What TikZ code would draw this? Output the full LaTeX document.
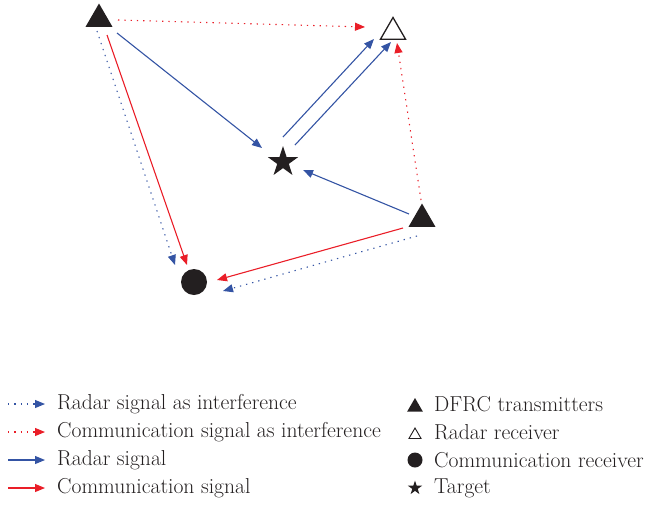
\documentclass[tikz,border=0pt]{standalone}
\usetikzlibrary{arrows.meta,shapes.geometric,calc}
\definecolor{rblue}{RGB}{52,84,164}
\definecolor{rred}{RGB}{234,30,40}
\definecolor{sym}{RGB}{35,31,32}
\tikzset{
  sig/.style={line width=1.1pt,-{Triangle[length=10pt,width=8pt]}},
  rsig/.style={sig,rblue},
  csig/.style={sig,rred},
  dotsig/.style={sig,dash pattern=on 1.3pt off 5pt},
  rint/.style={dotsig,rblue},
  cint/.style={dotsig,rred},
  tx/.style={regular polygon,regular polygon sides=3,fill=sym,inner sep=0pt,minimum size=#1},
  rx/.style={regular polygon,regular polygon sides=3,draw=sym,line width=1.3pt,fill=white,inner sep=0pt,minimum size=#1},
  cx/.style={circle,fill=sym,inner sep=0pt,minimum size=#1},
  tg/.style={star,star points=5,star point ratio=2.618,fill=sym,inner sep=0pt,minimum size=#1},
  lab/.style={anchor=west,inner sep=0pt,text=sym,font=\fontsize{21.6}{24}\selectfont},
}
\begin{document}
\begin{tikzpicture}[x=1pt,y=-1pt]
\useasboundingbox (0,0) rectangle (647,504);
% main nodes
\node[tx=31pt] (t1) at (99,19) {};
\node[rx=29pt] (rr) at (393,32) {};
\node[tx=31pt] (t2) at (422,219) {};
\node[tg=32pt] (tg) at (283,162) {};
\node[cx=26pt] (cr) at (194,282) {};
% connectors
\draw[cint] ($(t1)+(19,1)$) -- ($(rr)+(-28,-5)$);
\draw[rsig] ($(t1)+(18,14)$) -- ($(tg)+(-21,-14)$);
\draw[csig] ($(t1)+(8,16)$) -- ($(cr)+(-7,-17)$);
\draw[rint] ($(t1)+(-2,12)$) -- ($(cr)+(-19,-17)$);
\draw[rsig] ($(tg)+(0,-25)$) -- ($(rr)+(-19,7)$);
\draw[rsig] ($(tg)+(12,-17)$) -- ($(rr)+(-2,10)$);
\draw[rsig] ($(t2)+(-13,-5)$) -- ($(tg)+(20,8)$);
\draw[csig] ($(t2)+(-19,9)$) -- ($(cr)+(23,-2)$);
\draw[rint] ($(t2)+(-5,17)$) -- ($(cr)+(29,9)$);
\draw[cint] ($(t2)+(-1,-19)$) -- ($(rr)+(4,11)$);
% legend left
\coordinate (l1a) at (8,404); \coordinate (l1b) at (45,404);
\coordinate (l2a) at (8,432); \coordinate (l2b) at (45,432);
\coordinate (l3a) at (8,460); \coordinate (l3b) at (45,460);
\coordinate (l4a) at (8,488); \coordinate (l4b) at (45,488);
\draw[rint] (l1a) -- (l1b);
\draw[cint] (l2a) -- (l2b);
\draw[rsig] (l3a) -- (l3b);
\draw[csig] (l4a) -- (l4b);
\node[lab] (k1) at (57,404) {Radar signal as interference};
\node[lab] (k2) at (57,432) {Communication signal as interference};
\node[lab] (k3) at (57,460) {Radar signal};
\node[lab] (k4) at (57,488) {Communication signal};
% legend right
\node[tx=18pt] (s1) at (415,407) {};
\node[rx=14pt,line width=0.9pt] (s2) at (415,435) {};
\node[cx=15pt] (s3) at (415,460) {};
\node[tg=15pt] (s4) at (415,488) {};
\node[lab] (k5) at (434,404) {DFRC transmitters};
\node[lab] (k6) at (434,432) {Radar receiver};
\node[lab] (k7) at (434,460) {Communication receiver};
\node[lab] (k8) at (434,488) {Target};
\end{tikzpicture}
\end{document}
